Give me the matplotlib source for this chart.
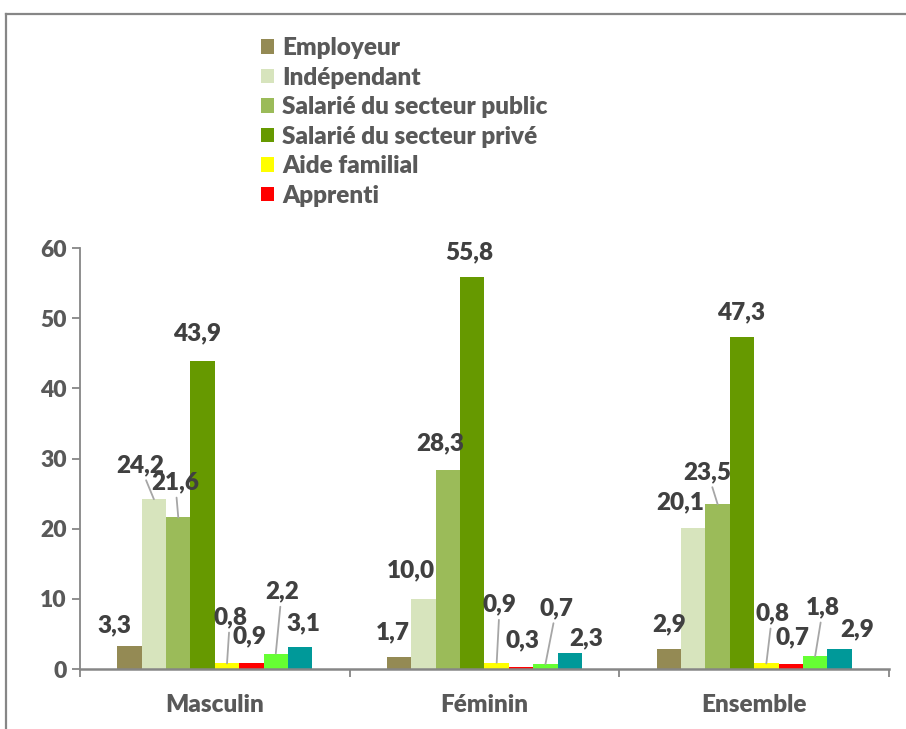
import numpy as np
import matplotlib.pyplot as plt
from matplotlib.lines import Line2D

plt.rcParams['font.family'] = ['Lato', 'DejaVu Sans']
plt.rcParams['font.weight'] = 'heavy'

categories = ['Masculin', 'Féminin', 'Ensemble']
series = ['Employeur', 'Indépendant', 'Salarié du secteur public',
          'Salarié du secteur privé', 'Aide familial', 'Apprenti', '', '']
employeur = [3.3, 1.7, 2.9]
independant = [24.2, 10.0, 20.1]
sal_public = [21.6, 28.3, 23.5]
sal_prive = [43.9, 55.8, 47.3]
aide_familial = [0.8, 0.9, 0.8]
apprenti = [0.9, 0.3, 0.7]
autre1 = [2.2, 0.7, 1.8]
autre2 = [3.1, 2.3, 2.9]
values = [employeur, independant, sal_public, sal_prive,
          aide_familial, apprenti, autre1, autre2]

colors = ['#948A54', '#D7E4BD', '#9BBB59', '#669900',
          '#FFFF00', '#FF0000', '#66FF33', '#009999']

# label offsets in pixels from the bar top, per category then per series
offsets = [
    [(-15, 21), (-14, 34), (-3, 35), (-6, 28), (3, 46), (-2, 26), (6, 62), (3, 24)],
    [(-6, 25), (-13, 29), (-8, 27), (-3, 25), (3, 58), (1, 27), (11, 56), (16, 15)],
    [(0, 24), (-13, 26), (-10, 32), (-1, 25), (6, 50), (2, 27), (8, 49), (18, 19)],
]
leaders = {(0, 1), (0, 2), (0, 4), (0, 6), (1, 4), (1, 6), (2, 2), (2, 4), (2, 6)}

fig = plt.figure(figsize=(9.06, 7.29), dpi=100)
ax = fig.add_axes([80/906, 60/729, 809/906, 421/729])

x = np.arange(len(categories))
w = 0.0904
handles = []
for j in range(len(series)):
    pos = x + (j - 3.5) * w
    b = ax.bar(pos, values[j], w, color=colors[j])
    handles.append(b)
    for i, v in enumerate(values[j]):
        dx, dy = offsets[i][j]
        arrow = None
        if (i, j) in leaders:
            arrow = dict(arrowstyle='-', color='#a6a6a6', lw=1.3, shrinkA=1, shrinkB=0)
        ax.annotate(f'{v:.1f}'.replace('.', ','), xy=(pos[i], v), xytext=(dx, dy),
                    textcoords='offset pixels', ha='center', va='center',
                    fontsize=17.5, color='#404040', arrowprops=arrow)

ax.set_xlim(-0.5, 2.5)
ax.set_ylim(0, 60)
ax.set_yticks(range(0, 61, 10))
ax.set_xticks(x, categories)
ax.set_xticks([-0.5, 0.5, 1.5, 2.5], minor=True)
for s in ['top', 'right']:
    ax.spines[s].set_visible(False)
ax.spines['left'].set_color('#868686')
ax.spines['left'].set_linewidth(1.3)
ax.spines['bottom'].set_color('#868686')
ax.spines['bottom'].set_linewidth(1.8)
ax.tick_params(axis='y', length=6, width=1.3, color='#868686', labelsize=16.5,
               labelcolor='#595959', pad=3.5)
ax.tick_params(axis='x', which='major', length=0, labelsize=17.5,
               labelcolor='#595959', pad=18)
ax.tick_params(axis='x', which='minor', length=6, width=1.3, color='#868686')

fig.legend([h for h in handles[:6]], series[:6], loc='upper left',
           bbox_to_anchor=(261/906, 1 - 37/729), frameon=False,
           handlelength=0.53, handleheight=0.53, handletextpad=0.35,
           labelspacing=0.31, fontsize=17.5, labelcolor='#595959',
           borderaxespad=0, borderpad=0)

# outer frame of the chart area (cropped)
fig.add_artist(Line2D([6/906, 1], [1 - 14/729, 1 - 14/729], transform=fig.transFigure,
                      color='#868686', lw=1.6))
fig.add_artist(Line2D([6/906, 6/906], [0, 1 - 14/729], transform=fig.transFigure,
                      color='#868686', lw=1.6))

fig.savefig('out.png', dpi=100)
